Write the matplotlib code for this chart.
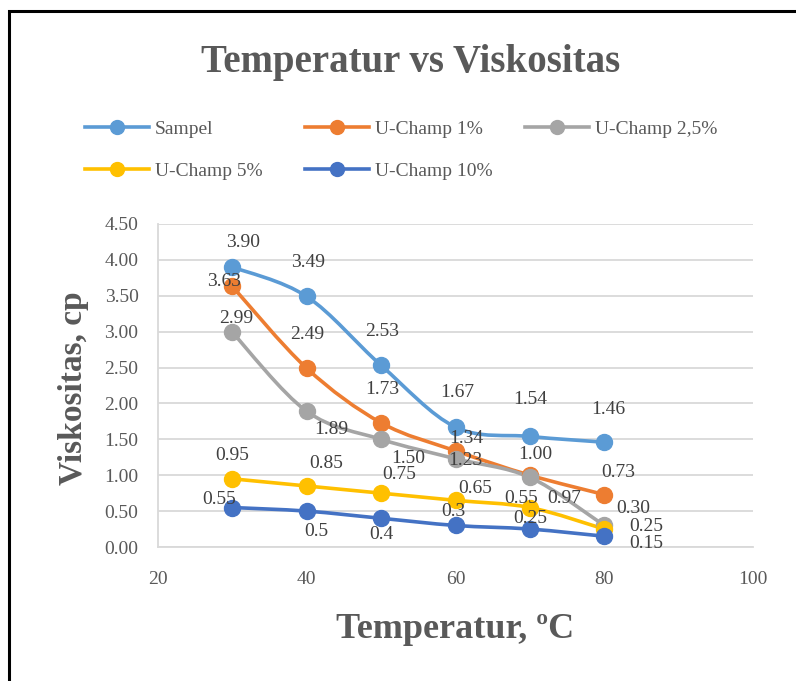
import numpy as np
import matplotlib
matplotlib.use("Agg")
import matplotlib.pyplot as plt
from matplotlib.path import Path
from matplotlib.patches import PathPatch, Rectangle
from matplotlib.lines import Line2D

# DATA
suhu = [30, 40, 50, 60, 70, 80]
sampel = [3.90, 3.49, 2.53, 1.67, 1.54, 1.46]
uchamp_1 = [3.63, 2.49, 1.73, 1.34, 1.00, 0.73]
uchamp_25 = [2.99, 1.89, 1.50, 1.23, 0.97, 0.30]
uchamp_5 = [0.95, 0.85, 0.75, 0.65, 0.55, 0.25]
uchamp_10 = [0.55, 0.5, 0.4, 0.3, 0.25, 0.15]
nama_seri = ["Sampel", "U-Champ 1%", "U-Champ 2,5%", "U-Champ 5%", "U-Champ 10%"]

# STYLE
warna = ["#5B9BD5", "#ED7D31", "#A5A5A5", "#FFC000", "#4472C4"]
format_label = ["{:.2f}", "{:.2f}", "{:.2f}", "{:.2f}", "{:g}"]
# posisi label (pixel: dx ke kanan, dy ke bawah)
geser_label = [
    [(11, -25), (1, -34), (1, -34), (2, -35), (0, -37), (4, -33)],
    [(-8, -5), (0, -34), (1, -33), (11, -12), (5, -21), (14, -22)],
    [(4, -14), (25, 18), (27, 19), (10, 2), (34, 21), (29, -17)],
    [(0, -23), (19, -22), (18, -19), (20, -12), (-9, -9), (42, -3)],
    [(-13, -8), (10, 20), (0, 16), (-2, -14), (0, -11), (42, 7)],
]

plt.rcParams["font.family"] = ["Liberation Serif", "DejaVu Serif"]
abu = "#595959"

fig = plt.figure(figsize=(7.96, 6.81), dpi=100)
ax = fig.add_axes([158 / 796, 1 - 547 / 681, (753 - 158) / 796, (547 - 224) / 681])


def kurva_halus(x, y):
    # kurva bezier ala Excel (smoothed line)
    x = np.asarray(x, float)
    y = np.asarray(y, float)
    n = len(x)
    verts = [(x[0], y[0])]
    codes = [Path.MOVETO]
    for i in range(n - 1):
        i0 = max(i - 1, 0)
        i3 = min(i + 2, n - 1)
        c1 = (x[i] + (x[i + 1] - x[i0]) / 6, y[i] + (y[i + 1] - y[i0]) / 6)
        c2 = (x[i + 1] - (x[i3] - x[i]) / 6, y[i + 1] - (y[i3] - y[i]) / 6)
        verts += [c1, c2, (x[i + 1], y[i + 1])]
        codes += [Path.CURVE4] * 3
    return Path(verts, codes)


semua = [sampel, uchamp_1, uchamp_25, uchamp_5, uchamp_10]
for k, nilai in enumerate(semua):
    ax.add_patch(PathPatch(kurva_halus(suhu, nilai), facecolor="none",
                           edgecolor=warna[k], lw=2.6, zorder=3 + k * 0.1))
    ax.plot(suhu, nilai, linestyle="none", marker="o", markersize=11.5,
            color=warna[k], zorder=4 + k * 0.1)

for k, nilai in enumerate(semua):
    for i in range(len(suhu)):
        dx, dy = geser_label[k][i]
        ax.annotate(format_label[k].format(nilai[i]), (suhu[i], nilai[i]),
                    xytext=(dx, -dy), textcoords="offset pixels",
                    ha="center", va="center", fontsize=14, color="#404040",
                    zorder=6)

ax.set_xlim(20, 100)
ax.set_ylim(0, 4.5)
ax.set_xticks([20, 40, 60, 80, 100])
ax.set_yticks(np.arange(0, 4.51, 0.5))
ax.yaxis.set_major_formatter(matplotlib.ticker.FormatStrFormatter("%.2f"))
ax.grid(axis="y", color="#D9D9D9", lw=1.3)
ax.set_axisbelow(True)
for s in ["top", "right"]:
    ax.spines[s].set_visible(False)
for s in ["left", "bottom"]:
    ax.spines[s].set_color("#D9D9D9")
    ax.spines[s].set_linewidth(1.3)
ax.tick_params(axis="x", length=0, pad=17, labelsize=14, labelcolor=abu)
ax.tick_params(axis="y", length=0, pad=14, labelsize=14, labelcolor=abu)

fig.text(411 / 796, 1 - 72 / 681, "Temperatur vs Viskositas", ha="center",
         va="baseline", fontsize=28, fontweight="bold", color=abu)
fig.text(455 / 796, 1 - 638 / 681, "Temperatur, ºC", ha="center",
         va="baseline", fontsize=26, fontweight="bold", color=abu)
fig.text(82 / 796, 1 - 388 / 681, "Viskositas, cp", ha="center",
         va="baseline", rotation=90, rotation_mode="anchor", fontsize=24,
         fontweight="bold", color=abu)

# LEGENDA (3 kolom)
kolom = [[0, 3], [1, 4], [2]]
posisi_x = [85, 305, 525]
for c, isi in enumerate(kolom):
    h = [Line2D([], [], color=warna[j], lw=2.6, marker="o", markersize=10)
         for j in isi]
    lg = fig.legend(h, [nama_seri[j] for j in isi], loc="upper left",
                    bbox_to_anchor=(posisi_x[c] / 796, 1 - 120 / 681),
                    frameon=False, fontsize=14, labelcolor=abu,
                    handlelength=3.3, handletextpad=0.3, labelspacing=1.25,
                    borderaxespad=0, borderpad=0)

fig.patches.append(Rectangle((9 / 796, -0.1), 1.2, 1.1 - 11 / 681,
                             transform=fig.transFigure, fill=False,
                             edgecolor="black", lw=2.2))

plt.savefig("out.png", dpi=100)
